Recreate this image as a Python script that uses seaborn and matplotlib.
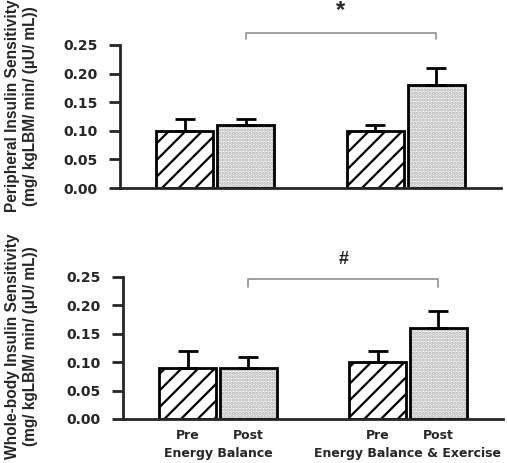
import numpy as np
import pandas as pd
import matplotlib
matplotlib.use('Agg')
import matplotlib.pyplot as plt
import seaborn as sns

# data
groups = ['Energy Balance', 'Energy Balance & Exercise']
times = ['Pre', 'Post']
periph_mean = [0.10, 0.11, 0.10, 0.18]   # EB pre, EB post, EBE pre, EBE post
periph_err = [0.02, 0.01, 0.01, 0.03]
whole_mean = [0.09, 0.09, 0.10, 0.16]
whole_err = [0.03, 0.02, 0.02, 0.03]
yticks = [0.00, 0.05, 0.10, 0.15, 0.20, 0.25]
periph_label = 'Peripheral Insulin Sensitivity\n(mg/ kgLBM/ min/ (\u00b5U/ mL))'
whole_label = 'Whole-body Insulin Sensitivity\n(mg/ kgLBM/ min/ (\u00b5U/ mL))'

sns.set_style('ticks')
plt.rcParams['font.family'] = ['Liberation Sans', 'DejaVu Sans']
plt.rcParams['hatch.linewidth'] = 1.6

fig = plt.figure(figsize=(5.07, 4.63), dpi=100)
ax1 = fig.add_axes([120 / 507, 1 - 188 / 463, 381 / 507, 143 / 463])
ax2 = fig.add_axes([123 / 507, 1 - 419 / 463, 380 / 507, 142 / 463])


def make_df(means, errs):
    rows = []
    i = 0
    for g in groups:
        for t in times:
            rows.append({'group': g, 'time': t, 'value': means[i], 'err': errs[i]})
            i += 1
    return pd.DataFrame(rows)


def draw_panel(ax, means, errs, ylabel, sig, bracket_y, drop, sig_y, sig_size):
    df = make_df(means, errs)
    sns.barplot(data=df, x='group', y='value', hue='time', order=groups,
                hue_order=times, palette={'Pre': 'white', 'Post': '#f7f7f7'},
                saturation=1, edgecolor='black', linewidth=2, width=0.64,
                gap=0.06, errorbar=None, legend=False, ax=ax)
    bars = sorted(ax.patches, key=lambda p: p.get_x())
    centers = []
    for i, p in enumerate(bars):
        centers.append(p.get_x() + p.get_width() / 2)
        if i % 2 == 0:
            p.set_hatch('//')
        else:
            p.set_hatch('.....')
            p._hatch_color = (0.68, 0.68, 0.68, 1)
    ax.errorbar(centers, df['value'], yerr=[np.zeros(len(df)), df['err']],
                fmt='none', ecolor='black', elinewidth=2, capsize=7,
                capthick=2, zorder=1)
    # significance bracket between the two Post bars
    x0, x1 = centers[1], centers[3]
    ax.plot([x0, x0, x1, x1], [bracket_y - drop, bracket_y, bracket_y, bracket_y - drop],
            color='#999999', lw=1.3, clip_on=False)
    ax.text((x0 + x1) / 2, sig_y, sig, ha='center', va='center',
            fontsize=sig_size, fontweight='bold', clip_on=False)

    ax.set_ylim(0, 0.25)
    ax.set_xlim(-0.5, 1.5)
    ax.set_yticks(yticks)
    ax.set_yticklabels(['%.2f' % v for v in yticks], fontsize=10,
                       fontweight='bold', family='DejaVu Sans')
    ax.set_ylabel(ylabel, fontsize=11.2, fontweight='bold', linespacing=1.25)
    ax.set_xlabel('')
    sns.despine(ax=ax)
    for s in ['left', 'bottom']:
        ax.spines[s].set_linewidth(2)
    ax.tick_params(axis='y', length=8, width=2, pad=8)
    ax.tick_params(axis='x', length=0)
    return centers


draw_panel(ax1, periph_mean, periph_err, periph_label, '*', 0.271, 0.011, 0.31, 17)
ax1.set_xticks([])
ax1.yaxis.set_label_coords(-0.215, 0.573)

centers = draw_panel(ax2, whole_mean, whole_err, whole_label, '#', 0.246, 0.014, 0.28, 13)
ax2.yaxis.set_label_coords(-0.224, 0.514)
ax2.set_xticks(centers, minor=True)
ax2.set_xticklabels(times * len(groups), minor=True, fontsize=9,
                    fontweight='bold', family='DejaVu Sans')
ax2.set_xticks([0, 1])
ax2.set_xticklabels(groups, fontsize=9, fontweight='bold', family='DejaVu Sans')
ax2.tick_params(axis='x', which='minor', length=0, pad=7)
ax2.tick_params(axis='x', which='major', length=0, pad=20)

fig.savefig('out.png', dpi=100)
